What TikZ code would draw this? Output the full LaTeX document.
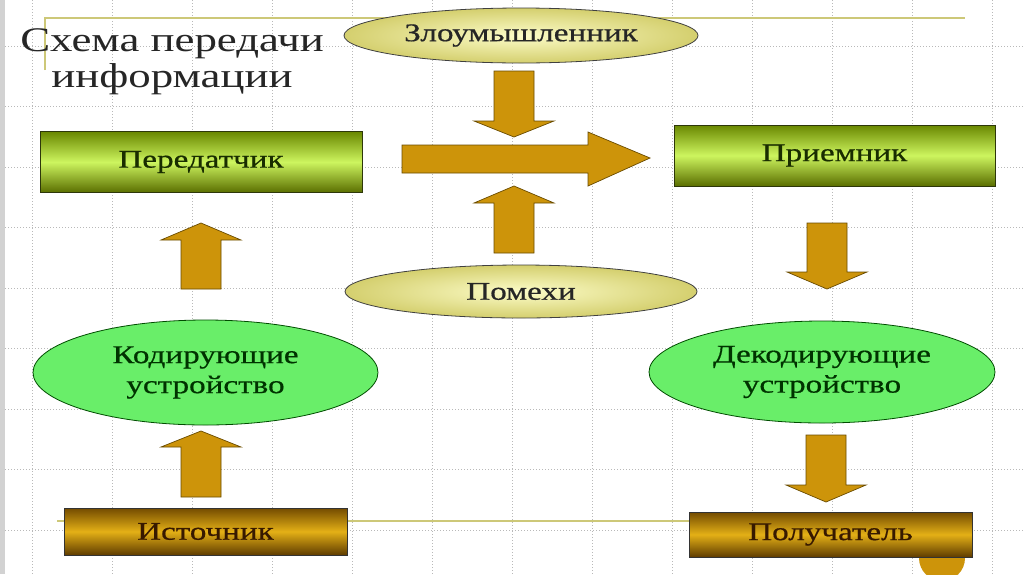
\documentclass[tikz,border=0pt]{standalone}
\usepackage{fontspec}
\setmainfont{Liberation Serif}
\newfontfamily\slidefont[FakeStretch=1.3]{Liberation Serif}
\newfontfamily\boxfont[FakeStretch=1.3, FakeBold=0.6]{Liberation Serif}
\usepackage{tikz}
\usetikzlibrary{positioning, shapes.geometric, calc}
\definecolor{olivdark}{RGB}{90,110,0}
\definecolor{olivtop}{RGB}{105,135,0}
\definecolor{limelight}{RGB}{205,245,95}
\definecolor{boxedge}{RGB}{45,55,10}
\definecolor{golddark}{RGB}{95,60,0}
\definecolor{goldtop}{RGB}{115,75,0}
\definecolor{goldlight}{RGB}{228,176,22}
\definecolor{ellyellow}{RGB}{252,252,200}
\definecolor{ellolive}{RGB}{212,207,110}
\definecolor{ellgreen}{RGB}{105,238,105}
\definecolor{arrfill}{RGB}{205,148,10}
\definecolor{arredge}{RGB}{105,75,0}
\definecolor{rulecol}{RGB}{205,200,120}
\definecolor{gtext}{RGB}{25,45,0}
\definecolor{btext}{RGB}{55,25,0}

% block arrow, vertical: centre x, base y, head base y, tip y
\newcommand{\varr}[4]{%
  \filldraw[blkarrow] ({#1-20},#2) -- ({#1+20},#2) -- ({#1+20},#3) -- ({#1+40},#3)
    -- (#1,#4) -- ({#1-40},#3) -- ({#1-20},#3) -- cycle;}

\begin{document}
\begin{tikzpicture}[x=1pt, y=-1pt,
    every node/.style={font=\boxfont\fontsize{25.5}{30}\selectfont},
    gridline/.style={gray!55, line width=0.6pt, dash pattern=on 1pt off 2pt},
    gbox/.style={draw=boxedge, line width=0.9pt, top color=olivtop, bottom color=olivdark, middle color=limelight, inner sep=0pt, text=gtext},
    bbox/.style={draw=black!80, line width=0.9pt, top color=goldtop, bottom color=golddark, middle color=goldlight, inner sep=0pt, text=btext},
    yell/.style={ellipse, draw=black!75, line width=0.8pt, inner color=ellyellow, outer color=ellolive, inner sep=0pt, text=black!85},
    gell/.style={ellipse, draw=green!30!black, line width=0.8pt, fill=ellgreen, inner sep=0pt, align=center, text=green!20!black},
    blkarrow/.style={fill=arrfill, draw=arredge, line width=0.7pt}]
  \useasboundingbox (0,0) rectangle (1024,574);
  \fill[white] (0,0) rectangle (1024,574);
  \fill[gray!35] (0,0) rectangle (5,574);

  % dotted slide grid
  \foreach \gx in {0,...,12} {
    \draw[gridline] ({32+80*\gx},0) -- ({32+80*\gx},574);
  }
  \foreach \gy in {0,...,8} {
    \draw[gridline] (5,{46+60.5*\gy}) -- (1024,{46+60.5*\gy});
  }

  % template rules and dot
  \draw[rulecol, line width=1.6pt] (45,70) -- (45,18) -- (965,18);
  \draw[rulecol, line width=1.6pt] (57,521) -- (690,521);
  \fill[arrfill] (942,558) circle (23);

  \node[align=center, font=\slidefont\fontsize{34.5}{36}\selectfont, text=black!85] (title) at (172,62) {Схема передачи\\информации};

  \node[gbox, minimum width=322pt, minimum height=61pt] (trans) at (201,162) {Передатчик};
  \node[gbox, minimum width=321pt, minimum height=61pt] (recv) at (834.5,155.5) {Приемник};
  \node[bbox, minimum width=283pt, minimum height=47pt] (src) at (205.5,531.5) {Источник};
  \node[bbox, minimum width=283pt, minimum height=45pt] (dest) at (830.5,534.5) {Получатель};

  \node[yell, minimum width=354pt, minimum height=55pt] (intr) at (521,35.5) {Злоумышленник};
  \node[yell, minimum width=352pt, minimum height=53pt] (noise) at (521,291.5) {Помехи};
  \node[gell, minimum width=345pt, minimum height=105pt] (coder) at (205.5,372.5) {Кодирующие\\устройство};
  \node[gell, minimum width=346pt, minimum height=102pt] (decoder) at (822,372) {Декодирующие\\устройство};

  % block arrows
  \varr{514}{71}{121}{137}
  \varr{514}{253}{203}{186}
  \varr{201}{289}{240}{223}
  \varr{201}{497}{447}{431}
  \varr{827}{223}{272}{289}
  \varr{826}{435}{485}{502}
  \filldraw[blkarrow] (402,145) -- (588,145) -- (588,132) -- (650,158)
    -- (588,186) -- (588,173) -- (402,173) -- cycle;
\end{tikzpicture}
\end{document}
